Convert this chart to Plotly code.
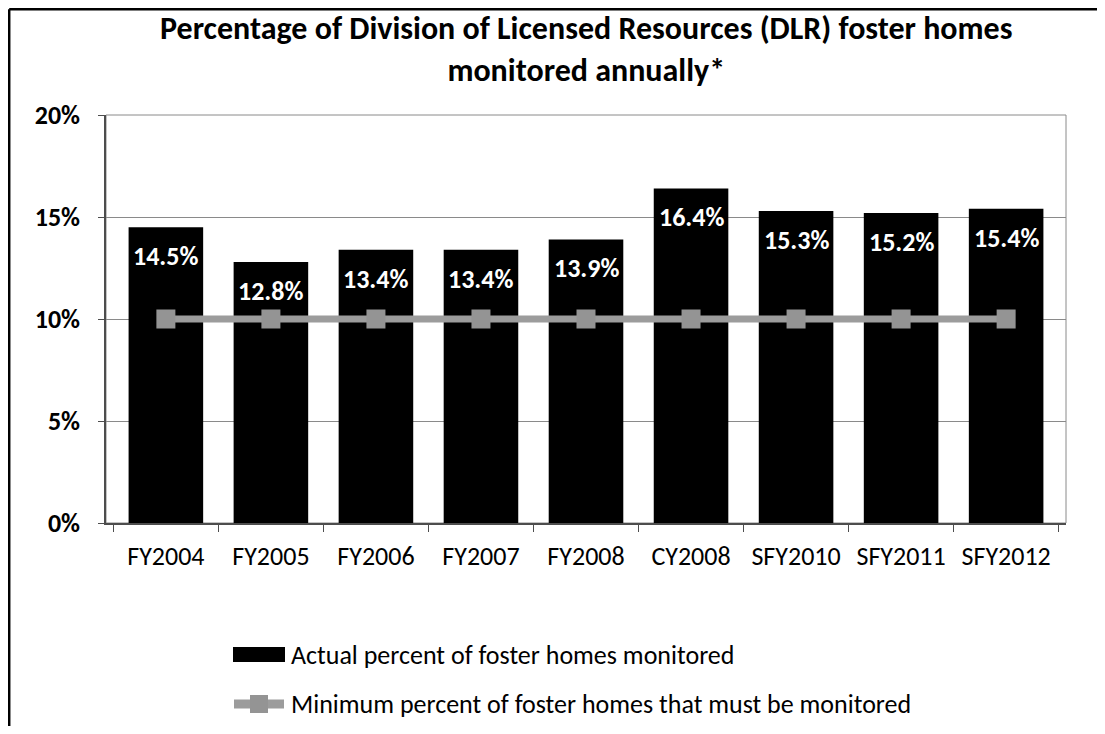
import plotly.graph_objects as go

categories = ["FY2004", "FY2005", "FY2006", "FY2007", "FY2008", "CY2008", "SFY2010", "SFY2011", "SFY2012"]
actual_pct = [14.5, 12.8, 13.4, 13.4, 13.9, 16.4, 15.3, 15.2, 15.4]
minimum_pct = [10, 10, 10, 10, 10, 10, 10, 10, 10]
y_ticks = [0, 5, 10, 15, 20]
y_tick_labels = ["0%", "5%", "10%", "15%", "20%"]
title_text = ("Percentage of Division of Licensed Resources (DLR) foster homes<br>"
              "monitored annually*")
legend_names = ["Actual percent of foster homes monitored",
                "Minimum percent of foster homes that must be monitored"]

FONT = "Carlito, Calibri, Lato, sans-serif"
OFF = 8  # default page body margin
W, H = 1105 - 2 * OFF, 734 - 2 * OFF
# plot area in reference pixels: x 106..1066, y 115..523
L, T = 106 - OFF, 115 - OFF
R = W - (1066 - OFF)
B = H - (523 - OFF)
PW, PH = W - L - R, H - T - B


def px_x(x):
    """reference-image x pixel -> paper coordinate"""
    return (x - OFF - L) / PW


def px_y(y):
    """reference-image y pixel -> paper coordinate"""
    return (H - B - (y - OFF)) / PH


fig = go.Figure()
fig.add_trace(go.Bar(
    x=categories, y=actual_pct, name=legend_names[0],
    marker=dict(color="#000000", line=dict(width=0)),
    showlegend=False,
))
fig.add_trace(go.Scatter(
    x=categories, y=minimum_pct, name=legend_names[1], mode="lines+markers",
    line=dict(color="#9C9C9C", width=7),
    marker=dict(symbol="square", size=19, color="#949494", line=dict(width=0)),
    showlegend=False,
))

annotations = []
for c, v in zip(categories, actual_pct):
    annotations.append(dict(
        x=c, y=v, xref="x", yref="y", text=f"<b>{v:.1f}%</b>", showarrow=False,
        yanchor="middle", yshift=-29, font=dict(family=FONT, size=26, color="white"),
    ))

# title
annotations.append(dict(
    x=0.5, y=px_y(50), xref="paper", yref="paper", text=f"<b>{title_text}</b>",
    showarrow=False, xanchor="center", yanchor="middle",
    font=dict(family=FONT, size=32, color="black"),
))

# custom legend
shapes = []
shapes.append(dict(type="rect", xref="paper", yref="paper",
                   x0=px_x(233), x1=px_x(285), y0=px_y(662), y1=px_y(647),
                   fillcolor="black", line=dict(width=0)))
shapes.append(dict(type="line", xref="paper", yref="paper",
                   x0=px_x(234), x1=px_x(284), y0=px_y(704), y1=px_y(704),
                   line=dict(color="#9C9C9C", width=9)))
shapes.append(dict(type="rect", xref="paper", yref="paper",
                   x0=px_x(250), x1=px_x(268), y0=px_y(713), y1=px_y(695),
                   fillcolor="#949494", line=dict(width=0)))
annotations.append(dict(x=px_x(289), y=px_y(655), xref="paper", yref="paper",
                        text=legend_names[0], showarrow=False, xanchor="left", yanchor="middle",
                        font=dict(family=FONT, size=26, color="black")))
annotations.append(dict(x=px_x(289), y=px_y(704), xref="paper", yref="paper",
                        text=legend_names[1], showarrow=False, xanchor="left", yanchor="middle",
                        font=dict(family=FONT, size=26, color="black")))

# plot area border
shapes.append(dict(type="rect", xref="paper", yref="paper", x0=0, x1=1, y0=0, y1=1,
                   line=dict(color="#8A8A8A", width=1), layer="below"))
# outer chart frame (left and top edges are the only visible ones)
frame_x, frame_y = px_x(OFF + 1.2), px_y(OFF + 1.2)
shapes.append(dict(type="line", xref="paper", yref="paper",
                   x0=frame_x, x1=frame_x, y0=px_y(H + OFF), y1=frame_y,
                   line=dict(color="black", width=2.5)))
shapes.append(dict(type="line", xref="paper", yref="paper",
                   x0=frame_x, x1=px_x(W + OFF), y0=frame_y, y1=frame_y,
                   line=dict(color="black", width=2.5)))

fig.update_layout(
    width=W, height=H,
    margin=dict(l=L, r=R, t=T, b=B, autoexpand=False),
    paper_bgcolor="white", plot_bgcolor="white",
    bargap=0.29,
    font=dict(family=FONT, color="black"),
    annotations=annotations, shapes=shapes,
    showlegend=False,
)
fig.update_yaxes(
    range=[0, 20], tickvals=y_ticks, ticktext=y_tick_labels,
    tickfont=dict(family=FONT, size=26, color="black", weight="bold"),
    showgrid=True, gridcolor="#8A8A8A", gridwidth=1,
    showline=True, linecolor="#4D4D4D", linewidth=1.5,
    ticks="outside", ticklen=6, tickcolor="#4D4D4D",
    zeroline=False, ticklabelstandoff=13,
)
fig.update_xaxes(
    tickson="boundaries", ticks="outside", ticklen=7, tickcolor="#4D4D4D",
    showline=True, linecolor="#4D4D4D", linewidth=1.5,
    tickfont=dict(family=FONT, size=26, color="black"),
    ticklabelstandoff=9,
)

fig.write_html("out.html")
